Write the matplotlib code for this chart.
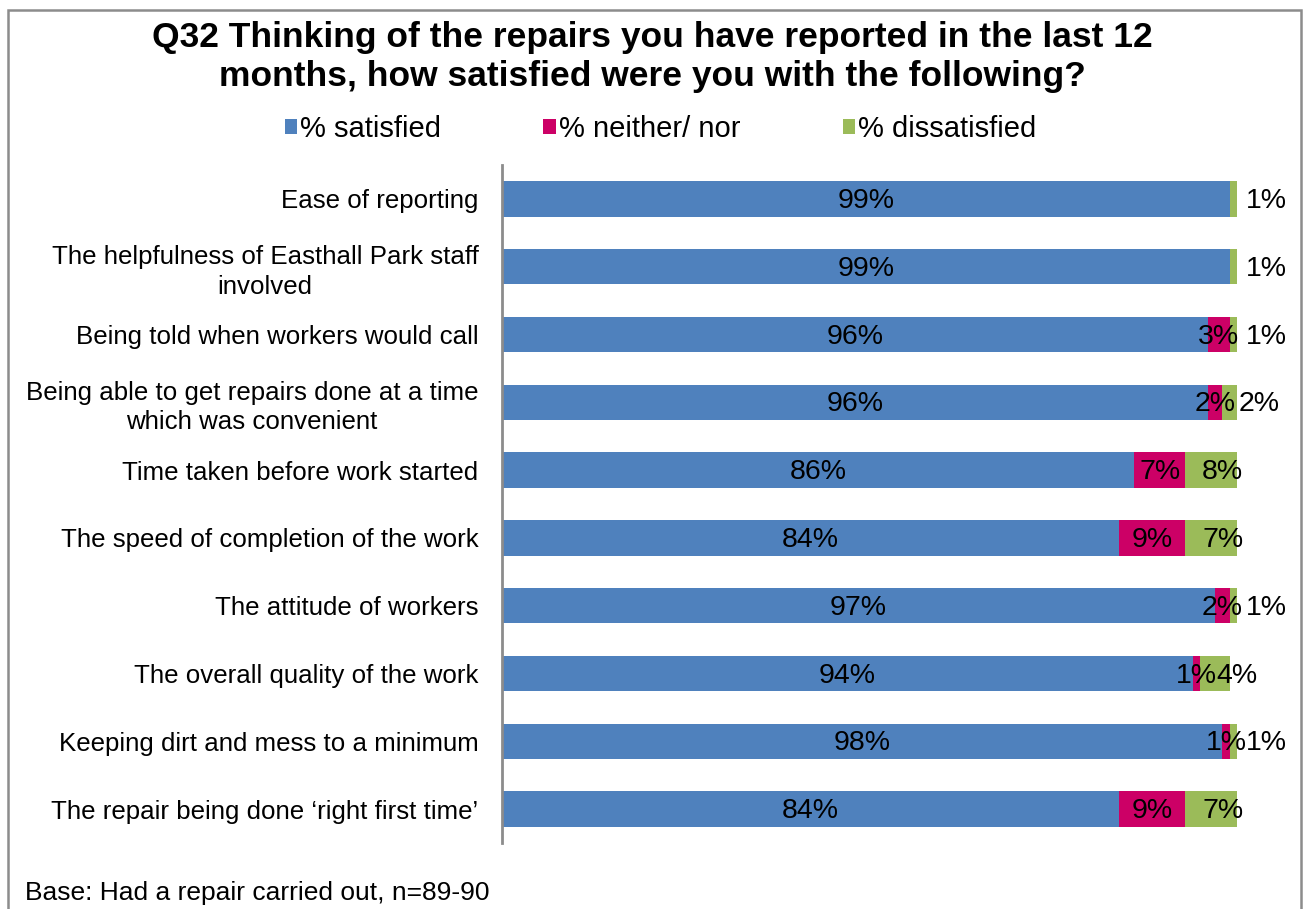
import matplotlib.pyplot as plt
from matplotlib.patches import Rectangle, Patch

plt.rcParams['font.family'] = ['Liberation Sans', 'DejaVu Sans']

questions = [
    "Ease of reporting",
    "The helpfulness of Easthall Park staff\ninvolved",
    "Being told when workers would call",
    "Being able to get repairs done at a time\nwhich was convenient",
    "Time taken before work started",
    "The speed of completion of the work",
    "The attitude of workers",
    "The overall quality of the work",
    "Keeping dirt and mess to a minimum",
    "The repair being done \u2018right first time\u2019",
]
satisfied = [99, 99, 96, 96, 86, 84, 97, 94, 98, 84]
neither = [0, 0, 3, 2, 7, 9, 2, 1, 1, 9]
dissatisfied = [1, 1, 1, 2, 8, 7, 1, 4, 1, 7]

series_names = ["% satisfied", "% neither/ nor", "% dissatisfied"]
colors = ["#4F81BD", "#CC0066", "#9BBB59"]

fig = plt.figure(figsize=(13.03, 9.09), dpi=100)
ax = fig.add_axes([0.3853, 0.0726, 0.5640, 0.7459])

y = list(range(len(questions)))
h = 0.52
ax.barh(y, satisfied, height=h, color=colors[0])
ax.barh(y, neither, left=satisfied, height=h, color=colors[1])
left3 = [s + n for s, n in zip(satisfied, neither)]
ax.barh(y, dissatisfied, left=left3, height=h, color=colors[2])

vsize = 20.5
for i in y:
    ax.text(satisfied[i] / 2, i + 0.03, f"{satisfied[i]}%", ha='center', va='center',
            fontsize=vsize)
    if neither[i] > 0:
        ax.text(satisfied[i] + neither[i] / 2, i + 0.03, f"{neither[i]}%",
                ha='center', va='center', fontsize=vsize)
    # dissatisfied labels sit at the inside base of the segment
    ax.annotate(f"{dissatisfied[i]}%", xy=(left3[i], i + 0.03), xytext=(12, 0),
                textcoords='offset points', ha='left', va='center', fontsize=vsize,
                annotation_clip=False)

ax.set_xlim(0, 100)
ax.set_ylim(len(questions) - 0.5, -0.5)
ax.set_yticks(y)
ax.set_yticklabels(questions, fontsize=18.6)
for lbl in ax.get_yticklabels():
    lbl.set_multialignment('center')
    lbl.set_linespacing(1.3)
ax.tick_params(axis='y', length=0, pad=17)
ax.set_xticks([])
for side in ['top', 'right', 'bottom']:
    ax.spines[side].set_visible(False)
ax.spines['left'].set_color('#8C8C8C')
ax.spines['left'].set_linewidth(2)

fig.text(0.501, 1 - 57 / 909,
         "Q32 Thinking of the repairs you have reported in the last 12\n"
         "months, how satisfied were you with the following?",
         ha='center', va='center', fontsize=25.5, fontweight='bold', linespacing=1.2)

handles = [Patch(facecolor=c, edgecolor='none') for c in colors]
fig.legend(handles, series_names, loc='center', bbox_to_anchor=(0.507, 1 - 129 / 909),
           ncol=3, frameon=False, fontsize=21, handlelength=0.42, handleheight=0.42,
           handletextpad=0.12, columnspacing=3.5)

fig.text(25 / 1303, 1 - 893 / 909, "Base: Had a repair carried out, n=89-90",
         ha='left', va='center', fontsize=19)

fig.add_artist(Rectangle((7.5 / 1303, -0.05), 0.9927, 0.989 + 0.05,
                         transform=fig.transFigure, fill=False,
                         edgecolor='#8C8C8C', linewidth=1.8, clip_on=False))

fig.savefig("out.png", dpi=100)
